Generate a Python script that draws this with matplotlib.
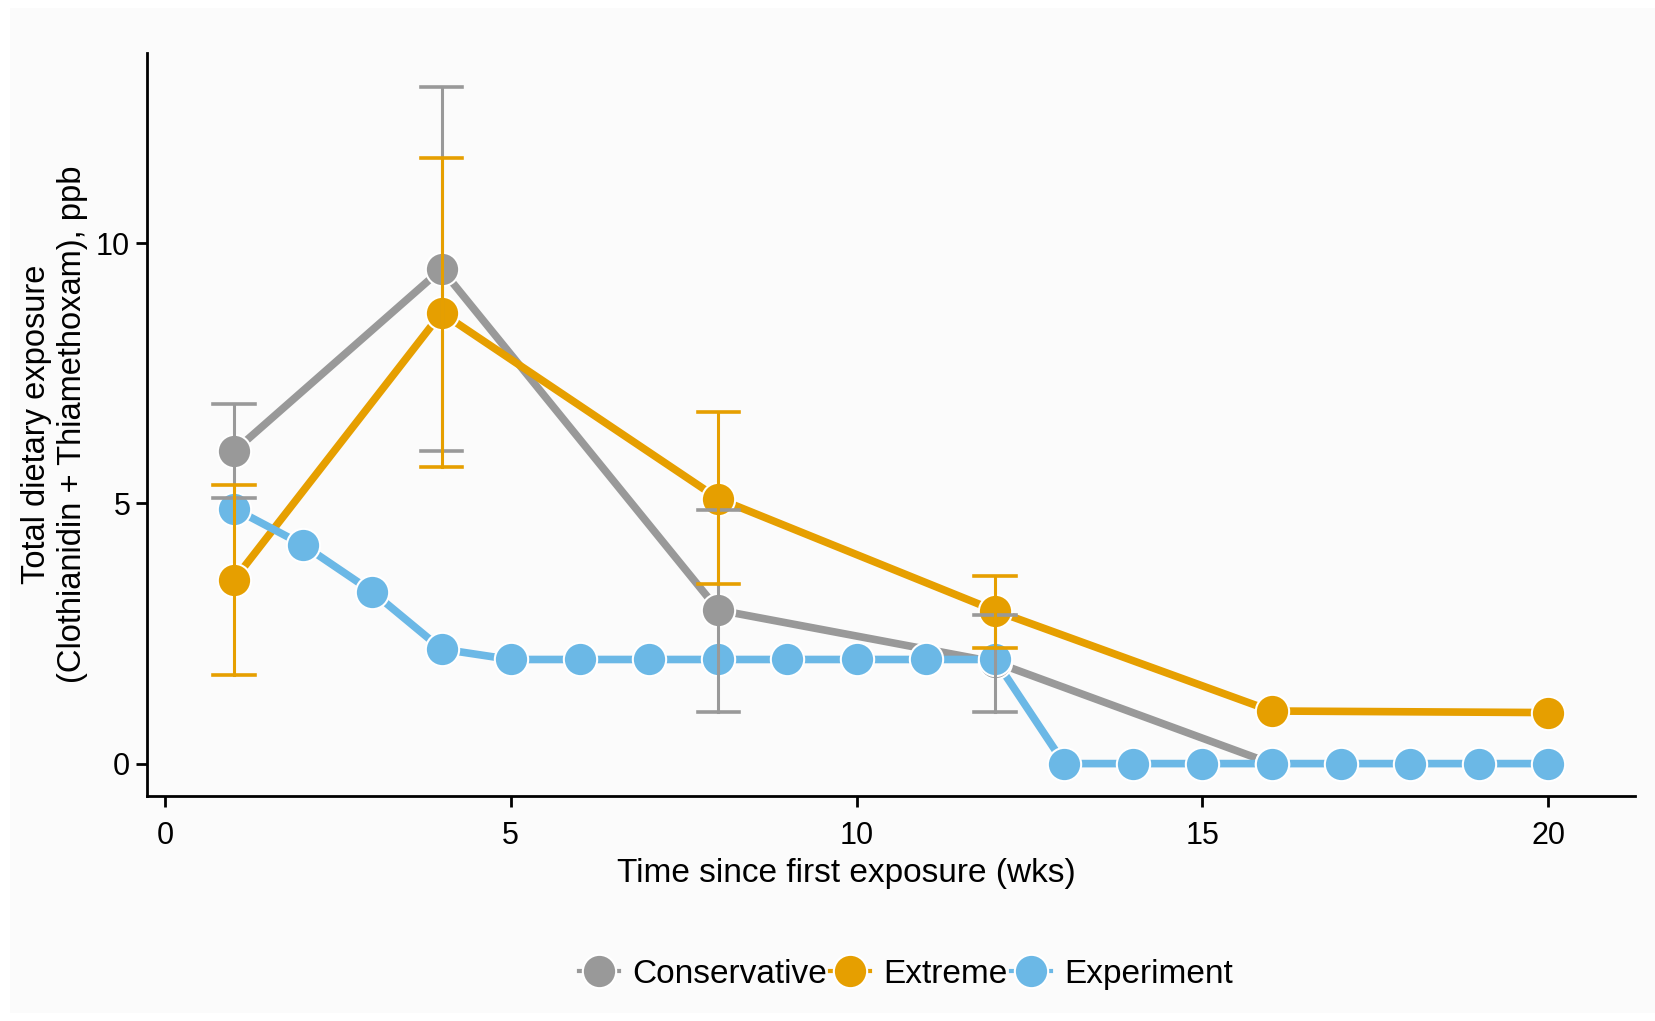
import matplotlib.pyplot as plt
from matplotlib.lines import Line2D
from matplotlib.patches import Rectangle

plt.rcParams['font.family'] = ['Liberation Sans', 'DejaVu Sans']

# modelled exposure scenarios (weeks since first exposure)
cons_wk = [1, 4, 8, 12, 16]
cons_val = [6.0, 9.5, 2.95, 1.95, 0.0]
cons_lo = [5.1, 6.0, 1.0, 1.0]
cons_hi = [6.9, 13.0, 4.87, 2.85]

ext_wk = [1, 4, 8, 12, 16, 20]
ext_val = [3.53, 8.66, 5.09, 2.94, 1.01, 0.98]
ext_lo = [1.7, 5.7, 3.45, 2.23]
ext_hi = [5.36, 11.64, 6.75, 3.61]

# experimental feeding schedule
exp_wk = list(range(1, 21))
exp_val = [4.9, 4.2, 3.3, 2.2, 2.0, 2.0, 2.0, 2.0, 2.0, 2.0, 2.0, 2.0,
           0, 0, 0, 0, 0, 0, 0, 0]

labels = ['Conservative', 'Extreme', 'Experiment']
colors = ['#999999', '#E69F00', '#6BB8E6']

fig = plt.figure(figsize=(16.56, 10.21), dpi=100, facecolor='white')
fig.patches.append(Rectangle((10 / 1656, 8 / 1021), 1 - 10 / 1656, 1 - 16 / 1021,
                             transform=fig.transFigure, facecolor='#fbfbfb',
                             edgecolor='none', zorder=-5))
ax = fig.add_axes([0.0887, 0.220, 0.8985, 0.728])
ax.set_facecolor('#fbfbfb')

series = [(cons_wk, cons_val), (ext_wk, ext_val), (exp_wk, exp_val)]
for (x, y), c in zip(series, colors):
    ax.plot(x, y, color=c, lw=5.5, solid_capstyle='butt', zorder=2)
for (x, y), c in zip(series, colors):
    ax.plot(x, y, ls='none', marker='o', ms=24, mfc=c, mec='white', mew=1.5, zorder=3)

# error bars on the four sampled weeks
for x, lo, hi, c in [(cons_wk[:4], cons_lo, cons_hi, colors[0]),
                     (ext_wk[:4], ext_lo, ext_hi, colors[1])]:
    for xi, l, h in zip(x, lo, hi):
        ax.plot([xi, xi], [l, h], color=c, lw=2.2, zorder=4)
        ax.plot([xi - 0.3, xi + 0.3], [l, l], color=c, lw=2.6, zorder=4)
        ax.plot([xi - 0.3, xi + 0.3], [h, h], color=c, lw=2.6, zorder=4)

ax.set_xlim(-0.26, 21.25)
ax.set_ylim(-0.63, 13.65)
ax.set_xticks([0, 5, 10, 15, 20])
ax.set_yticks([0, 5, 10])
for s in ['top', 'right']:
    ax.spines[s].set_visible(False)
for s in ['left', 'bottom']:
    ax.spines[s].set_linewidth(2)
ax.tick_params(width=2, length=8, labelsize=22, colors='black')
ax.tick_params(axis='x', pad=10)
ax.tick_params(axis='y', pad=4)

ax.set_xlabel('Time since first exposure (wks)', fontsize=24, labelpad=5)
ax.xaxis.label.set_x(0.47)
ax.set_ylabel('Total dietary exposure\n(Clothianidin + Thiamethoxam), ppb',
              fontsize=23.5, labelpad=6, linespacing=1.2)

handles = [Line2D([], [], color=c, lw=3, marker='o', ms=24, mfc=c, mec='white', mew=1.5)
           for c in colors]
ax.legend(handles, labels, loc='center', bbox_to_anchor=(0.547, 0.046),
          bbox_transform=fig.transFigure, ncol=3, frameon=False, fontsize=24,
          handlelength=1.2, handletextpad=0.4, columnspacing=0.1)

fig.savefig('out.png', dpi=100, facecolor=fig.get_facecolor())
